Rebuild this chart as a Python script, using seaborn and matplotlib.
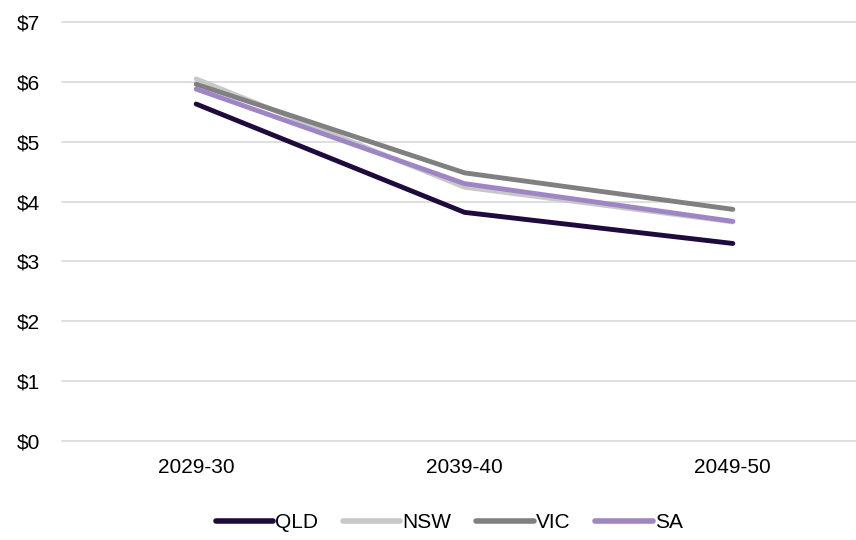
import pandas as pd
import numpy as np
import seaborn as sns
import matplotlib.pyplot as plt

years = ["2029-30", "2039-40", "2049-50"]
regions = ["QLD", "NSW", "VIC", "SA"]
qld = [5.63, 3.82, 3.30]
nsw = [6.05, 4.24, 3.66]
vic = [5.96, 4.48, 3.87]
sa = [5.88, 4.30, 3.67]
colors = ["#1e0a3c", "#c8c8c8", "#808080", "#9e86c4"]
y_ticks = [0, 1, 2, 3, 4, 5, 6, 7]

df = pd.DataFrame({
    "Year": years * 4,
    "Region": np.repeat(regions, len(years)),
    "Value": qld + nsw + vic + sa,
})

sns.set_style("white")
plt.rcParams['font.family'] = ['Liberation Sans', 'DejaVu Sans']
plt.rcParams['text.color'] = 'black'

fig = plt.figure(figsize=(8.56, 5.4), dpi=100)
ax = fig.add_axes([62 / 856, 99 / 540, 805 / 856, 419 / 540])

sns.lineplot(data=df, x="Year", y="Value", hue="Region", hue_order=regions,
             palette=colors, linewidth=3.5, sort=False, ax=ax,
             solid_capstyle="round")

ax.set_xlim(-0.5, 2.5)
ax.set_ylim(0, 7)
ax.set_yticks(y_ticks)
ax.set_yticklabels([f"${v}" for v in y_ticks])
ax.yaxis.grid(True, color="#d9d9d9", linewidth=1.2)
for gl in ax.get_ygridlines():
    gl.set_clip_on(False)
ax.set_axisbelow(True)
for s in ax.spines.values():
    s.set_visible(False)
ax.tick_params(axis="both", length=0, labelsize=15, colors="black")
ax.tick_params(axis="y", pad=16)
ax.tick_params(axis="x", pad=12)
ax.set_xlabel("")
ax.set_ylabel("")

handles, labels = ax.get_legend_handles_labels()
leg = ax.legend(handles, labels, loc="center", bbox_to_anchor=((449 - 62) / 805, -0.195),
                bbox_transform=ax.transAxes, ncol=4, frameon=False, fontsize=15,
                handlelength=2.75, handletextpad=0.1, columnspacing=1.2)
for t in leg.get_texts():
    t.set_color("black")
for h in leg.get_lines():
    h.set_linewidth(4)

fig.savefig("out.png", dpi=100)
